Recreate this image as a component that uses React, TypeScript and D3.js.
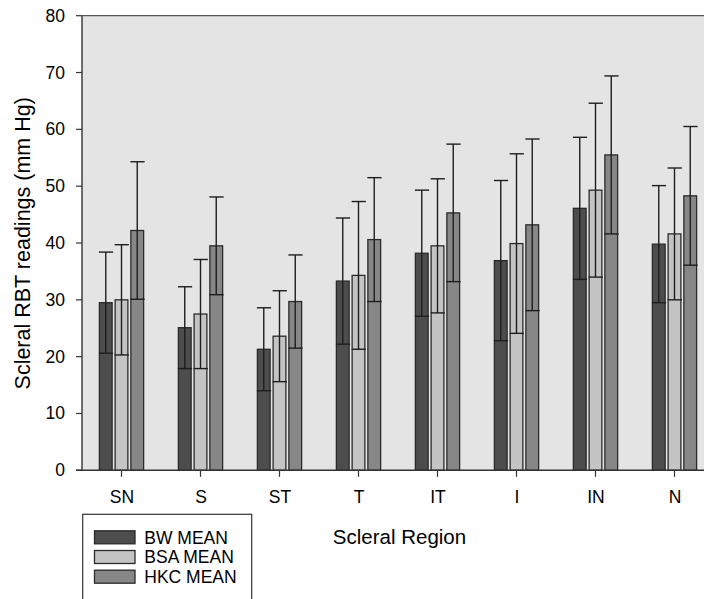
import React from 'react';
import { scaleBand, scaleLinear, range } from 'd3';

const regions = ['SN', 'S', 'ST', 'T', 'IT', 'I', 'IN', 'N'];
const seriesNames = ['BW MEAN', 'BSA MEAN', 'HKC MEAN'];
const colors = ['#4d4d4d', '#c4c4c4', '#878787'];

const bwMean = [29.5, 25.1, 21.3, 33.3, 38.2, 36.9, 46.1, 39.8];
const bwSd = [8.9, 7.2, 7.3, 11.1, 11.1, 14.1, 12.5, 10.3];
const bsaMean = [30.0, 27.5, 23.6, 34.3, 39.5, 39.9, 49.3, 41.6];
const bsaSd = [9.7, 9.6, 8.0, 13.0, 11.8, 15.8, 15.3, 11.6];
const hkcMean = [42.2, 39.5, 29.7, 40.6, 45.3, 43.2, 55.5, 48.3];
const hkcSd = [12.1, 8.6, 8.2, 10.9, 12.1, 15.1, 13.9, 12.2];

const yTicks = [0, 10, 20, 30, 40, 50, 60, 70, 80];

const width = 704;
const height = 599;
const margin = { top: 15.7, left: 82, bottom: 470.3 };
const step = 79;

const means = [bwMean, bsaMean, hkcMean];
const sds = [bwSd, bsaSd, hkcSd];

const font = 'Arial, "Liberation Sans", Helvetica, sans-serif';

function App() {
  const x0 = scaleBand()
    .domain(regions)
    .range([margin.left, margin.left + step * regions.length])
    .paddingInner(0.44)
    .paddingOuter(0.22);

  const x1 = scaleBand()
    .domain(seriesNames)
    .range([0, x0.bandwidth()])
    .paddingInner(0.19);

  const y = scaleLinear().domain([0, 80]).range([margin.bottom, margin.top]);

  const right = width + 20;

  return (
    <svg
      width={width}
      height={height}
      style={{ position: 'absolute', left: 0, top: 0, background: '#fff' }}
      fontFamily={font}
    >
      <rect
        x={margin.left}
        y={margin.top}
        width={right - margin.left}
        height={margin.bottom - margin.top}
        fill="#e4e4e4"
      />
      <line x1={margin.left} x2={right} y1={margin.top} y2={margin.top} stroke="#555" strokeWidth={1.3} />

      {regions.map((r, i) => (
        <g key={r}>
          {seriesNames.map((s, k) => {
            const bx = x0(r)! + x1(s)!;
            const bw = x1.bandwidth();
            const m = means[k][i];
            const sd = sds[k][i];
            const cx = bx + bw / 2;
            return (
              <g key={s}>
                <rect
                  x={bx}
                  y={y(m)}
                  width={bw}
                  height={y(0) - y(m)}
                  fill={colors[k]}
                  stroke="#2b2b2b"
                  strokeWidth={1.3}
                />
                <line x1={cx} x2={cx} y1={y(m + sd)} y2={y(m - sd)} stroke="#1e1e1e" strokeWidth={1.4} />
                <line x1={bx - 0.5} x2={bx + bw + 1} y1={y(m + sd)} y2={y(m + sd)} stroke="#1e1e1e" strokeWidth={1.4} />
                <line x1={bx - 0.5} x2={bx + bw + 1} y1={y(m - sd)} y2={y(m - sd)} stroke="#1e1e1e" strokeWidth={1.4} />
              </g>
            );
          })}
        </g>
      ))}

      {/* axes */}
      <line x1={margin.left} x2={margin.left} y1={margin.top} y2={margin.bottom} stroke="#333" strokeWidth={1.4} />
      <line x1={margin.left - 6} x2={right} y1={margin.bottom} y2={margin.bottom} stroke="#333" strokeWidth={1.4} />

      {yTicks.map(t => (
        <g key={t}>
          <line x1={margin.left - 6} x2={margin.left} y1={y(t)} y2={y(t)} stroke="#333" strokeWidth={1.2} />
          <text x={65} y={y(t) + 6} textAnchor="end" fontSize={17.5} fill="#000">
            {t}
          </text>
        </g>
      ))}

      {regions.map(r => {
        const cx = x0(r)! + x0.bandwidth() / 2;
        return (
          <g key={r}>
            <line x1={cx} x2={cx} y1={margin.bottom} y2={margin.bottom + 6.5} stroke="#333" strokeWidth={1.2} />
            <text x={cx + 0.5} y={502.5} textAnchor="middle" fontSize={17.5} fill="#000">
              {r}
            </text>
          </g>
        );
      })}

      <text x={399.5} y={544} textAnchor="middle" fontSize={20.5} fill="#000">
        Scleral Region
      </text>
      <text
        transform={`translate(29.5, 243.3) rotate(-90)`}
        textAnchor="middle"
        fontSize={21.5}
        fill="#000"
      >
        Scleral RBT readings (mm Hg)
      </text>

      {/* legend */}
      <rect x={82.7} y={514.3} width={169} height={100} fill="#fff" stroke="#333" strokeWidth={1.2} />
      {range(seriesNames.length).map(k => (
        <g key={k} transform={`translate(0, ${k * 19.7})`}>
          <rect x={94.5} y={530.8} width={40.5} height={13} fill={colors[k]} stroke="#2b2b2b" strokeWidth={1.3} />
          <text x={144.3} y={543.6} fontSize={17.5} fill="#000">
            {seriesNames[k]}
          </text>
        </g>
      ))}
    </svg>
  );
}

export default App;
